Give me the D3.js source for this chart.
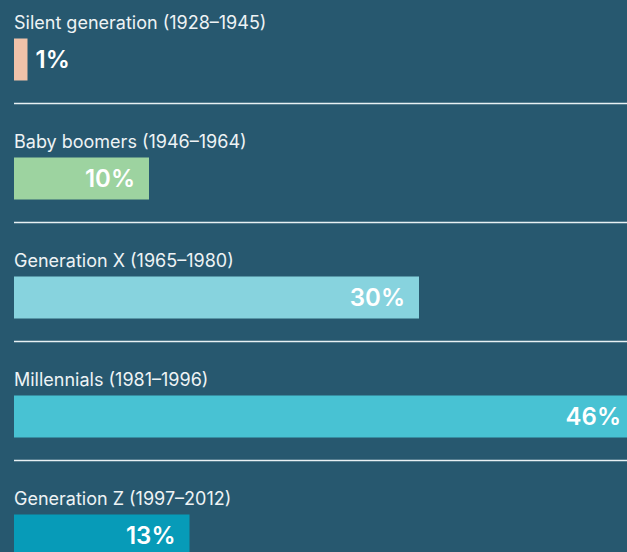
<!DOCTYPE html>
<html>
<head>
<meta charset="utf-8">
<script src="https://cdn.jsdelivr.net/npm/d3@7"></script>
<style>
  html, body { margin: 0; padding: 0; background: #27586f; }
  svg { display: block; }
</style>
</head>
<body>
<div id="chart"></div>
<script>
// generations and their share
var generations = ["Silent generation (1928\u20131945)", "Baby boomers (1946\u20131964)",
  "Generation X (1965\u20131980)", "Millennials (1981\u20131996)", "Generation Z (1997\u20132012)"];
var shares = [1, 10, 30, 46, 13];
var barColors = ["#f0c2a9", "#9dd3a0", "#87d3de", "#48c2d3", "#079bb8"];

var width = 627, height = 552;
var barH = 42;

var svg = d3.select('#chart')
  .append('svg')
  .attr('width', width)
  .attr('height', height);

svg.append('rect')
  .attr('width', width)
  .attr('height', height)
  .attr('fill', '#27586f');

var x = d3.scaleLinear().domain([0, 46]).range([14, 635]);
var y = d3.scaleBand()
  .domain(generations)
  .range([0, 595])
  .paddingInner(1 - barH / 119)
  .paddingOuter((1 - barH / 119) / 2);

var rows = svg.append('g').selectAll('g')
  .data(generations)
  .enter()
  .append('g');

// category label above each bar
rows.append('text')
  .attr('x', 14)
  .attr('y', d => y(d) - 10)
  .attr('fill', '#eef3f5')
  .style('font-family', 'Inter, "Noto Sans", sans-serif')
  .style('font-size', '18px')
  .text(d => d);

rows.append('rect')
  .attr('x', x(0))
  .attr('y', d => y(d))
  .attr('width', (d, i) => x(shares[i]) - x(0))
  .attr('height', y.bandwidth())
  .attr('fill', (d, i) => barColors[i]);

// value labels: inside bar, outside when too small
rows.append('text')
  .attr('x', (d, i) => shares[i] < 5 ? x(shares[i]) + 8 : x(shares[i]) - 14)
  .attr('y', d => y(d) + y.bandwidth() / 2)
  .attr('dy', '0.36em')
  .attr('text-anchor', (d, i) => shares[i] < 5 ? 'start' : 'end')
  .attr('fill', '#ffffff')
  .style('font-family', 'Inter, "Noto Sans", sans-serif')
  .style('font-weight', '600')
  .style('font-size', '24px')
  .text((d, i) => shares[i] + '%');

// separators between groups
svg.append('g').selectAll('line')
  .data(generations.slice(0, -1))
  .enter()
  .append('line')
  .attr('x1', 14)
  .attr('x2', width)
  .attr('y1', d => y(d) + y.bandwidth() + 23)
  .attr('y2', d => y(d) + y.bandwidth() + 23)
  .attr('stroke', '#e8f0f3')
  .attr('stroke-width', 1.5);
</script>
</body>
</html>
